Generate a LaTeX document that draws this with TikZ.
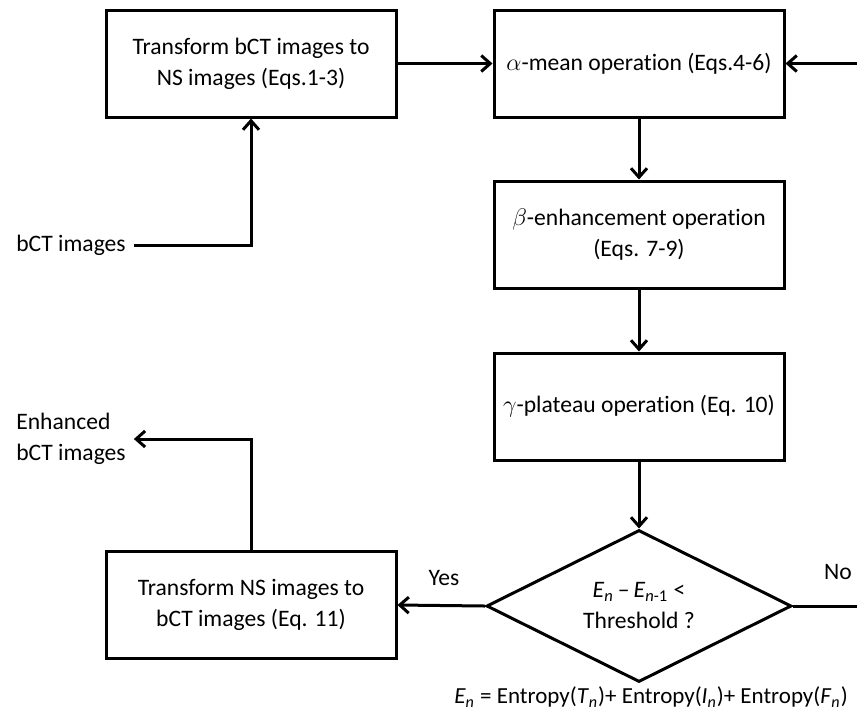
\documentclass[tikz,border=0pt]{standalone}
\usepackage{fontspec}
\setmainfont{Carlito}[Ligatures=NoCommon]
\usetikzlibrary{arrows.meta,shapes.geometric}

\newcommand{\sbn}[1]{\textit{#1}\textsubscript{\textit{n}}}

\begin{document}
\begin{tikzpicture}[x=0.5pt,y=-0.5pt,
    font=\fontsize{11.8}{15.5}\selectfont,
    line width=1.5pt,
    >={Straight Barb[length=4.5pt,width=8pt]},
    stage/.style={draw,rectangle,align=center,minimum width=145pt,minimum height=53.5pt},
    test/.style={draw,diamond,align=center,inner sep=0pt,minimum width=152.5pt,minimum height=76pt,aspect=2}]
    \useasboundingbox (0,0) rectangle (857,714);
    \node[stage] (ns) at (251,63.5) {Transform bCT images to\\NS images\ (Eqs.1-3)};
    \node[stage] (alpha) at (639,63.5) {$\alpha$-mean operation\ (Eqs.4-6)};
    \node[stage] (beta) at (639,234.5) {$\beta$-enhancement operation\\(Eqs. 7-9)};
    \node[stage] (gamma) at (639,406.5) {$\gamma$-plateau operation (Eq. 10)};
    \node[test] (thr) at (639,606) {\sbn{E}\,\textendash\,\textit{E}\textsubscript{\textit{n}-1} <\\Threshold ?};
    \node[stage] (bct) at (251,605) {Transform NS images to\\bCT images\ (Eq. 11)};
    \node (in) at (71,245) {bCT images};
    \node[align=left] (out) at (71,439) {Enhanced\\bCT images};
    \node (yes) at (444,578) {Yes};
    \node (no) at (838,572) {No};
    \node[font=\fontsize{11.5}{14}\selectfont] (ent) at (651,697) {\sbn{E} = Entropy(\sbn{T})+ Entropy(\sbn{I})+ Entropy(\sbn{F})};
    \coordinate (loopin) at (857,63.5);
    \coordinate (loopout) at (857,606);
    \draw[->] (in.east) -| (ns.south);
    \draw[->] (ns.east) -- (alpha.west);
    \draw[->] (loopin) -- (alpha.east);
    \draw[->] (alpha.south) -- (beta.north);
    \draw[->] (beta.south) -- (gamma.north);
    \draw[->] (gamma.south) -- (thr.north);
    \draw (thr.east) -- (loopout);
    \draw[->] (thr.west) -- (bct.east);
    \draw[->] (bct.north) |- (out.east);
\end{tikzpicture}
\end{document}
